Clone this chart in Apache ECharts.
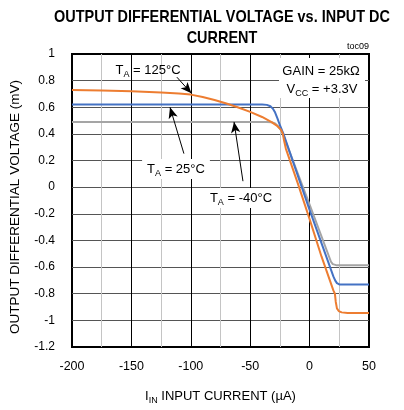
<!DOCTYPE html>
<html><head><meta charset="utf-8">
<script src="https://cdn.jsdelivr.net/npm/echarts@6/dist/echarts.min.js"></script>
<style>html,body{margin:0;padding:0;background:#fff}#c{width:404px;height:410px}</style>
</head><body><div id="c"></div>
<script>
// ---- data ----
const titleLines = ['OUTPUT DIFFERENTIAL VOLTAGE vs. INPUT DC', 'CURRENT'];
const xMin = -200, xMax = 50, xStep = 50;
const yMin = -1.2, yMax = 1, yStep = 0.2;
const curve125 = [[-200,0.73],[-175,0.726],[-150,0.72],[-125,0.71],[-110,0.703],[-100,0.695],[-90,0.677],[-80,0.655],[-70,0.628],[-60,0.598],[-50,0.565],[-40,0.527],[-32,0.488],[-27,0.458],[-24,0.43],[-22.5,0.40],[-21.5,0.35],[-20,0.29],[-10,0.03],[0,-0.24],[10,-0.52],[20,-0.775],[21.3,-0.80],[22,-0.86],[23,-0.91],[24.5,-0.93],[27,-0.94],[32,-0.945],[50,-0.945]];
const curve25 = [[-200,0.62],[-40,0.62],[-36,0.618],[-33,0.608],[-31,0.59],[-29,0.56],[-27,0.515],[-25,0.465],[-22,0.40],[0,-0.17],[20,-0.67],[21.5,-0.70],[23,-0.72],[25,-0.73],[50,-0.73]];
const curveM40 = [[-200,0.49],[-36,0.49],[-32,0.487],[-29,0.478],[-27,0.462],[-25,0.44],[-23,0.41],[0,-0.13],[18,-0.56],[19.5,-0.578],[21,-0.585],[23,-0.587],[50,-0.587]];
const seriesNames = ['TA = -40°C', 'TA = 25°C', 'TA = 125°C'];
const seriesColors = ['#a5a5a5', '#4472c4', '#ed7d31'];
// arrows: [from, to] in data coordinates
const arrow125 = [[-111.7,0.826],[-99.5,0.705]];
const arrow25 = [[-105.8,0.252],[-117.5,0.60]];
const arrowM40 = [[-56.1,0.045],[-63.6,0.49]];

const FONT = '"Liberation Sans", Arial, sans-serif';
const chart = echarts.init(document.getElementById('c'), null, {renderer: 'canvas'});

const subRich = {
  a: {fontSize: 13, fontFamily: FONT, color: '#000', lineHeight: 18},
  s: {fontSize: 9, fontFamily: FONT, color: '#000', lineHeight: 11, verticalAlign: 'bottom'}
};
function labelText(x, y, text, bg) {
  return {
    type: 'text', x: x, y: y, z: 100,
    style: {text: text, rich: subRich, align: 'center', verticalAlign: 'middle',
      backgroundColor: bg ? '#fff' : null, padding: bg ? [1, 5, 1, 5] : 0}
  };
}
function arrowLine(a) {
  return {data: [[{coord: a[0]}, {coord: a[1]}]]};
}
const arrowStyle = {
  silent: true, symbol: ['none', 'arrow'], symbolSize: [7, 11], label: {show: false},
  lineStyle: {color: '#000', width: 1, type: 'solid'}, animation: false
};

function mkSeries(i, data, arrow) {
  return {
    name: seriesNames[i], type: 'line', data: data, showSymbol: false, symbol: 'none',
    smooth: false,
    lineStyle: {color: seriesColors[i], width: 2, join: 'round'}, itemStyle: {color: seriesColors[i]},
    z: 3 + i,
    markLine: Object.assign({}, arrowStyle, arrowLine(arrow))
  };
}

chart.setOption({
  animation: false,
  backgroundColor: '#fff',
  grid: {left: 70, right: 35, top: 54, bottom: 57, show: true, borderColor: '#000', borderWidth: 2, backgroundColor: 'transparent'},
  xAxis: {
    type: 'value', min: xMin, max: xMax, interval: xStep,
    axisLine: {show: false}, axisTick: {show: false},
    axisLabel: {fontSize: 12.5, color: '#000', fontFamily: FONT, margin: 13},
    splitLine: {show: true, showMinLine: false, showMaxLine: false, lineStyle: {color: '#000', width: 1}},
    minorTick: {show: false, splitNumber: 2},
    minorSplitLine: {show: true, lineStyle: {color: '#c4c4c4', width: 1}},
    name: '{a|I}{s|IN}{a| INPUT CURRENT (µA)}', nameLocation: 'middle', nameGap: 40,
    nameTextStyle: {rich: subRich}
  },
  yAxis: {
    type: 'value', min: yMin, max: yMax, interval: yStep,
    axisLine: {show: false}, axisTick: {show: false},
    axisLabel: {fontSize: 12, color: '#000', fontFamily: FONT, margin: 17,
      formatter: v => String(Math.round(v * 10) / 10)},
    splitLine: {show: true, showMinLine: false, showMaxLine: false, lineStyle: {color: '#555', width: 1}},
    name: 'OUTPUT DIFFERENTIAL VOLTAGE (mV)', nameLocation: 'middle', nameGap: 50,
    nameTextStyle: {fontSize: 13.5, color: '#000', fontFamily: FONT, padding: [0, 13, 0, 0]}
  },
  series: [
    mkSeries(0, curveM40, arrowM40),
    mkSeries(1, curve25, arrow25),
    mkSeries(2, curve125, arrow125)
  ],
  graphic: [
    {type: 'text', x: 222, y: 17, scaleX: 0.85, style: {text: titleLines[0], font: 'bold 17px ' + FONT, fill: '#000', align: 'center', verticalAlign: 'middle'}},
    {type: 'text', x: 222, y: 38, scaleX: 0.85, style: {text: titleLines[1], font: 'bold 17px ' + FONT, fill: '#000', align: 'center', verticalAlign: 'middle'}},
    {type: 'text', x: 369, y: 47, style: {text: 'toc09', font: '9px ' + FONT, fill: '#000', align: 'right', verticalAlign: 'middle'}},
    labelText(148, 70, '{a|T}{s|A}{a| = 125°C}', false),
    labelText(176, 169, '{a|T}{s|A}{a| = 25°C}', true),
    labelText(241, 198, '{a|T}{s|A}{a| = -40°C}', true),
    {type: 'rect', x: 279, y: 58, z: 90, shape: {width: 86, height: 40}, style: {fill: '#fff'}},
    labelText(321, 71, '{a|GAIN = 25kΩ}', false),
    labelText(322, 89, '{a|V}{s|CC}{a| = +3.3V}', false)
  ]
});
</script></body></html>
